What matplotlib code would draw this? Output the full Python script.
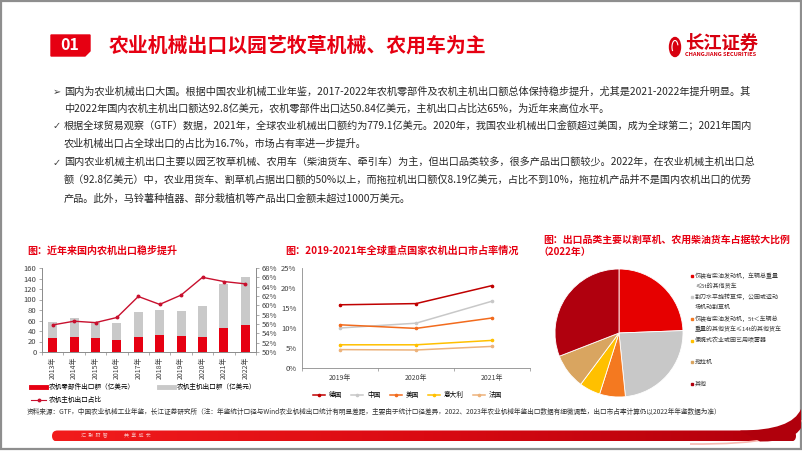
import matplotlib
matplotlib.use("Agg")
import matplotlib.pyplot as plt
import matplotlib.patches as mpatches
from matplotlib.path import Path
from matplotlib.lines import Line2D
from matplotlib.ticker import FuncFormatter
from matplotlib.colors import LinearSegmentedColormap
import numpy as np

plt.rcParams['font.family'] = ['Noto Sans CJK SC', 'DejaVu Sans']
plt.rcParams['axes.unicode_minus'] = False

W, H = 802, 451
RED = '#E60012'
TXT = '#262626'

# ---- data: chart 1 (农机出口额, 亿美元) ----
years = ['2013年', '2014年', '2015年', '2016年', '2017年', '2018年', '2019年', '2020年', '2021年', '2022年']
parts = [26, 28, 26, 23, 29, 32, 30, 29, 45, 50.84]
machines = [32, 36, 32, 32, 48, 48, 49, 58, 84, 92.8]
ratio = [55.8, 56.6, 56.3, 57.4, 61.9, 60.2, 62.2, 66.0, 65.1, 64.6]

# ---- data: chart 2 (市占率, %) ----
share_years = ['2019年', '2020年', '2021年']
countries = ['德国', '中国', '美国', '意大利', '法国']
share_de = [15.8, 16.1, 20.6]
share_cn = [10.0, 11.2, 16.7]
share_us = [10.8, 9.9, 12.5]
share_it = [5.8, 5.8, 6.9]
share_fr = [4.6, 4.5, 5.4]
share_colors = ['#C00000', '#C8C8C8', '#F26B1D', '#FFC000', '#EDB27A']

# ---- data: chart 3 (2022年出口品类占比) ----
pie_labels = ['仅装有柴油发动机，车辆总重量\n≤5t的其他货车',
              '割刀水平旋转草坪，公园或运动\n场机动割草机',
              '仅装有柴油发动机，5t＜车辆总\n重量的其他货车≤14t的其他货车',
              '便携式农业或园艺用喷雾器',
              '拖拉机',
              '其他']
pie_values = [24.4, 24.0, 6.5, 5.3, 8.9, 30.9]
pie_colors = ['#E60000', '#C8C8C8', '#F47920', '#FFC000', '#D9A560', '#B0000E']

body_lines = [
    '国内为农业机械出口大国。根据中国农业机械工业年鉴，2017-2022年农机零部件及农机主机出口额总体保持稳步提升，尤其是2021-2022年提升明显。其',
    '中2022年国内农机主机出口额达92.8亿美元，农机零部件出口达50.84亿美元，主机出口占比达65%，为近年来高位水平。',
    '根据全球贸易观察（GTF）数据，2021年，全球农业机械出口额约为779.1亿美元。2020年，我国农业机械出口金额超过美国，成为全球第二；2021年国内',
    '农业机械出口占全球出口的占比为16.7%，市场占有率进一步提升。',
    '国内农业机械主机出口主要以园艺牧草机械、农用车（柴油货车、牵引车）为主，但出口品类较多，很多产品出口额较少。2022年，在农业机械主机出口总',
    '额（92.8亿美元）中，农业用货车、割草机占据出口额的50%以上，而拖拉机出口额仅8.19亿美元，占比不到10%，拖拉机产品并不是国内农机出口的优势',
    '产品。此外，马铃薯种植器、部分栽植机等产品出口金额未超过1000万美元。',
]
bullets = ['➢', None, '✓', None, '✓', None, None]
line_y = [91.5, 108.5, 126.5, 143.5, 163, 180.5, 199]
justified = [True, False, True, False, True, True, False]

source = ('资料来源：GTF，中国农业机械工业年鉴，长江证券研究所（注：年鉴统计口径与Wind农业机械出口统计有明显差距，'
          '主要由于统计口径差异，2022、2023年农业机械年鉴出口数据有细微调整，出口市占率计算仍以2022年年鉴数据为准）')

fig = plt.figure(figsize=(W / 100, H / 100), dpi=100)
bg = fig.add_axes([0, 0, 1, 1])
bg.set_xlim(0, W)
bg.set_ylim(H, 0)
bg.set_autoscale_on(False)
bg.axis('off')
r = fig.canvas.get_renderer()


def box(x0, y0, x1, y1):
    return [x0 / W, 1 - y1 / H, (x1 - x0) / W, (y1 - y0) / H]


def fit(t, width):
    w = t.get_window_extent(renderer=r).width
    t.set_fontsize(t.get_fontsize() * width / w)
    return t.get_fontsize()


# frame
bg.add_patch(mpatches.Rectangle((1, 1), W - 2, H - 3.5, fill=False, edgecolor='#8E8E8E', lw=1.6))

# header
bg.add_patch(mpatches.Polygon([(51, 35), (90, 35), (90, 51), (85, 56), (51, 56)], closed=True, color=RED))
bg.text(70, 45.5, '01', color='white', fontsize=11.5, fontweight='bold', style='italic', ha='center', va='center')
t = bg.text(109, 45, '农业机械出口以园艺牧草机械、农用车为主', color=RED, fontsize=14, fontweight='bold', va='center')
fit(t, 378)

# logo
bg.add_patch(mpatches.Ellipse((675, 47), 11, 19, color='#D7000F'))
bg.add_patch(mpatches.Arc((675, 47), 6, 13, theta1=120, theta2=330, color='white', lw=0.8))
t = bg.text(685, 43.5, '长江证券', color='#D7000F', fontsize=12, fontweight='bold', va='center')
fit(t, 73)
t = bg.text(685, 54, 'CHANGJIANG SECURITIES', color='#D7000F', fontsize=3, fontweight='bold', va='center')
fit(t, 72)

# body text
texts = []
for s, b, y, j in zip(body_lines, bullets, line_y, justified):
    t = bg.text(64, y, s, color=TXT, fontsize=7.3, va='center')
    texts.append((t, j))
    if b:
        bg.text(56.5, y, b, color='#404040', fontsize=7, va='center', ha='center', family='DejaVu Sans')
fs_body = fit(texts[0][0], 688)
for t, j in texts[1:]:
    if j:
        fit(t, 688)
    else:
        t.set_fontsize(fs_body)

# chart titles
t = bg.text(27, 251, '图：近年来国内农机出口稳步提升', color=RED, fontsize=7.3, fontweight='bold', va='center')
fit(t, 150)
t = bg.text(285, 251, '图：2019-2021年全球重点国家农机出口市占率情况', color=RED, fontsize=7.3, fontweight='bold', va='center')
fit(t, 233)
t = bg.text(543, 240, '图：出口品类主要以割草机、农用柴油货车占据较大比例', color=RED, fontsize=7.3, fontweight='bold', va='center')
fs3 = fit(t, 247)
bg.text(538, 251.5, '（2022年）', color=RED, fontsize=fs3, fontweight='bold', va='center')

TICK = '#404040'
SPINE = '#8C8C8C'

# ---- chart 1 ----
ax1 = fig.add_axes(box(42, 268, 256, 352))
ax1.patch.set_alpha(0)
x = np.arange(len(years))
ax1.bar(x, parts, width=0.42, color='#E60012', zorder=2)
ax1.bar(x, machines, bottom=parts, width=0.42, color='#C9C9C9', zorder=2)
ax1.set_xlim(-0.5, len(years) - 0.5)
ax1.set_ylim(0, 160)
ax1.set_yticks(range(0, 161, 20))
ax1.set_xticks(x)
ax1.set_xticklabels(years, rotation=90)
ax1.set_xticks(np.arange(-0.5, len(years), 1), minor=True)
ax1.tick_params(axis='x', which='major', length=0, labelsize=5, colors=TICK, pad=3)
ax1.tick_params(axis='x', which='minor', length=2, color=SPINE, width=0.5)
ax1.tick_params(axis='y', length=2, width=0.5, color=SPINE, labelsize=5.5, labelcolor=TICK, pad=2)
ax1b = ax1.twinx()
ax1b.plot(x, ratio, color='#C8102E', lw=1, marker='o', ms=1.8, zorder=3)
ax1b.set_ylim(50, 68)
ax1b.set_yticks(range(50, 69, 2))
ax1b.yaxis.set_major_formatter(FuncFormatter(lambda v, p: f'{v:.0f}%'))
ax1b.tick_params(axis='y', length=2, width=0.5, color=SPINE, labelsize=5.5, labelcolor=TICK, pad=2)
for a in (ax1, ax1b):
    a.spines['top'].set_visible(False)
    for s in ('left', 'right', 'bottom'):
        a.spines[s].set_color(SPINE)
        a.spines[s].set_linewidth(0.6)

h1 = [Line2D([], [], color='#E60012', lw=3.5),
      Line2D([], [], color='#C8102E', lw=0.8, marker='o', ms=1.8),
      Line2D([], [], color='#C9C9C9', lw=3.5)]
l1 = ['农机零部件出口额（亿美元）', '农机主机出口占比', '农机主机出口额（亿美元）']
ax1b.legend(h1, l1, ncol=2, loc='upper left', bbox_to_anchor=(31 / W, 1 - 383 / H),
            bbox_transform=fig.transFigure, frameon=False, handlelength=2.3,
            handletextpad=0.3, columnspacing=3.7, labelspacing=0.75, borderpad=0, borderaxespad=0,
            prop={'size': 4.8})

# ---- chart 2 ----
ax2 = fig.add_axes(box(302, 268, 530, 368))
ax2.patch.set_alpha(0)
sx = np.arange(len(share_years))
for vals, c, name in zip([share_de, share_cn, share_us, share_it, share_fr], share_colors, countries):
    ax2.plot(sx, vals, color=c, lw=1.1, marker='o', ms=1.6, label=name)
ax2.set_xlim(-0.5, len(share_years) - 0.5)
ax2.set_ylim(0, 25)
ax2.set_yticks(range(0, 26, 5))
ax2.yaxis.set_major_formatter(FuncFormatter(lambda v, p: f'{v:.0f}%'))
ax2.set_xticks(sx)
ax2.set_xticklabels(share_years)
ax2.set_xticks(np.arange(-0.5, len(share_years), 1), minor=True)
ax2.tick_params(axis='x', which='major', length=0, labelsize=5, colors=TICK, pad=4)
ax2.tick_params(axis='x', which='minor', length=2.5, color=SPINE, width=0.5)
ax2.tick_params(axis='y', length=0, labelsize=5.5, labelcolor=TICK, pad=4)
for s in ('top', 'right'):
    ax2.spines[s].set_visible(False)
for s in ('left', 'bottom'):
    ax2.spines[s].set_color(SPINE)
    ax2.spines[s].set_linewidth(0.6)
ax2.legend(ncol=5, loc='center left', bbox_to_anchor=(313 / W, 1 - 395 / H),
           bbox_transform=fig.transFigure, frameon=False, prop={'size': 4.8}, handlelength=1.8,
           handletextpad=0.6, columnspacing=1.35, borderpad=0, borderaxespad=0)

# ---- chart 3 ----
ax3 = fig.add_axes(box(555, 269, 683, 397))
ax3.pie(pie_values, colors=pie_colors, startangle=90, counterclock=False,
        wedgeprops=dict(edgecolor='white', linewidth=0.6))
ax3.set_xlim(-1, 1)
ax3.set_ylim(-1, 1)
ax3.set_aspect('equal')

leg_y = [276, 297, 319, 341, 362, 384]
for lab, c, y in zip(pie_labels, pie_colors, leg_y):
    bg.add_patch(mpatches.Rectangle((690.5, y - 1.1), 2.2, 2.2, color=c))
    for k, part in enumerate(lab.split('\n')):
        bg.text(695, y + k * 10.5, part, color='#3A3A3A', fontsize=4.3, va='center')

# ---- footer ----
t = bg.text(27, 412, source, color='#333333', fontsize=4.7, va='center')
fit(t, 698)

bar = mpatches.FancyBboxPatch((52, 430.5), 744, 11, boxstyle='round,pad=0,rounding_size=5.5',
                              facecolor='none', edgecolor='none')
bg.add_patch(bar)
cmap = LinearSegmentedColormap.from_list('bar', ['#F21C1C', '#DA0A12', '#B0000C'])
im = bg.imshow(np.linspace(0, 1, 256).reshape(1, -1), extent=(52, 796, 441.5, 430.5),
               cmap=cmap, aspect='auto', zorder=1)
im.set_clip_path(bar)
curl = Path([(740, 430.5), (792, 430.5), (801, 409), (801, 428), (793, 442), (760, 441.5), (740, 441.5)],
            [Path.MOVETO, Path.CURVE3, Path.CURVE3, Path.LINETO, Path.CURVE3, Path.CURVE3, Path.CLOSEPOLY])
bg.add_patch(mpatches.PathPatch(curl, facecolor='#B0000C', edgecolor='none', zorder=2))
glow = Path([(690, 444), (797, 445), (801, 420)], [Path.MOVETO, Path.CURVE3, Path.CURVE3])
bg.add_patch(mpatches.PathPatch(glow, facecolor='none', edgecolor='#F6B8B0', lw=1.2, zorder=1))
bg.text(81, 436, '汇  聚  财  智', color='#F7C0C0', fontsize=3.6, va='center', zorder=3)
bg.text(124, 436, '共  享  成  长', color='#F7C0C0', fontsize=3.6, va='center', zorder=3)

fig.savefig('out.png', dpi=100)
